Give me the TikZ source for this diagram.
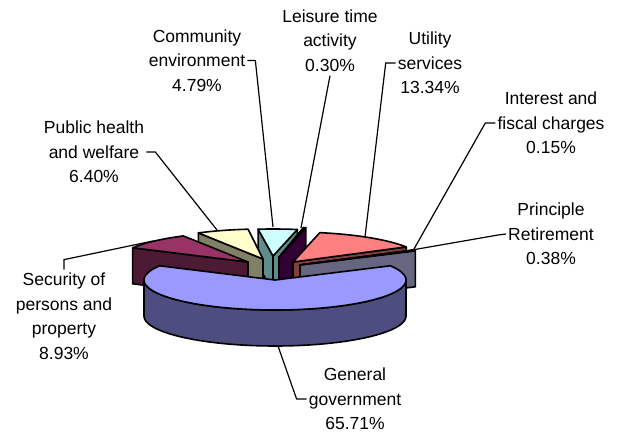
\documentclass[tikz,border=0pt]{standalone}
\usepackage{fontspec}
\setmainfont{Liberation Sans}
\definecolor{gtop}{HTML}{9999FF}
\definecolor{gside}{HTML}{4D4D80}
\definecolor{stop}{HTML}{993366}
\definecolor{sside}{HTML}{4D1A33}
\definecolor{ptop}{HTML}{FFFFCC}
\definecolor{pside}{HTML}{808066}
\definecolor{ctop}{HTML}{CCFFFF}
\definecolor{cside}{HTML}{608C8C}
\definecolor{ltop}{HTML}{660066}
\definecolor{lside}{HTML}{330033}
\definecolor{utop}{HTML}{FF8080}
\definecolor{uside}{HTML}{804040}
\definecolor{itop}{HTML}{0066CC}
\definecolor{iside}{HTML}{003366}
\definecolor{rtop}{HTML}{CCCCFF}
\definecolor{rside}{HTML}{666680}
\begin{document}
\begin{tikzpicture}[x=1pt,y=-1pt,
  pieface/.style={draw=black,line width=1.6pt,line join=round},
  lbl/.style={align=center,font=\fontsize{17.5}{24.5}\selectfont,inner sep=0pt},
  leader/.style={draw=black,line width=1.2pt}]
\useasboundingbox (0,0) rectangle (617,434);
\fill[white] (0,0) rectangle (617,434);

% Community environment (back centre)
\begin{scope}[shift={(273,256)}]
  \path[pieface,fill=cside] (0,0) -- ({131*sin(-6.53)},{-27*cos(-6.53)}) -- ++(0,36) -- (0,36) -- cycle;
  \path[pieface,fill=cside] (0,0) -- ({131*sin(10.71)},{-27*cos(10.71)}) -- ++(0,36) -- (0,36) -- cycle;
  \path[pieface,fill=ctop] (0,0) -- plot[domain=-6.53:10.71,samples=10] ({131*sin(\x)},{-27*cos(\x)}) -- cycle;
\end{scope}
% Public health and welfare
\begin{scope}[shift={(263,259)}]
  \path[pieface,fill=pside] (0,0) -- ({131*sin(-29.57)},{-30*cos(-29.57)}) -- ++(0,36) -- (0,36) -- cycle;
  \path[pieface,fill=ptop] (0,0) -- plot[domain=-29.57:-6.53,samples=12] ({131*sin(\x)},{-30*cos(\x)}) -- cycle;
\end{scope}
% Security of persons and property
\begin{scope}[shift={(248,262)}]
  \path[pieface,fill=sside] (0,0) -- ({131*sin(-61.72)},{-30*cos(-61.72)}) -- ++(0,36) -- (0,36) -- cycle;
  \path[pieface,fill=stop] (0,0) -- plot[domain=-61.72:-29.57,samples=16] ({131*sin(\x)},{-30*cos(\x)}) -- cycle;
\end{scope}
% Leisure time activity
\begin{scope}[shift={(279,257)}]
  \path[pieface,fill=lside] (0,0) -- ({131*sin(11.79)},{-30*cos(11.79)}) -- ++(0,36) -- (0,36) -- cycle;
  \path[pieface,fill=ltop] (0,0) -- plot[domain=10.71:11.79,samples=3] ({131*sin(\x)},{-30*cos(\x)}) -- cycle;
\end{scope}
% Utility services
\begin{scope}[shift={(293,262)}]
  \path[pieface,fill=uside] (0,0) -- ({131*sin(59.81)},{-30*cos(59.81)}) -- ++(0,36) -- (0,36) -- cycle;
  \path[pieface,fill=utop] (0,0) -- plot[domain=11.79:59.81,samples=24] ({131*sin(\x)},{-30*cos(\x)}) -- cycle;
\end{scope}
% Interest and fiscal charges
\begin{scope}[shift={(300,265)}]
  \path[pieface,fill=iside] (0,0) -- ({131*sin(60.35)},{-30*cos(60.35)}) -- ++(0,36) -- (0,36) -- cycle;
  \path[pieface,fill=itop] (0,0) -- plot[domain=59.81:60.35,samples=2] ({131*sin(\x)},{-30*cos(\x)}) -- cycle;
\end{scope}
% Principle Retirement
\begin{scope}[shift={(300,265)}]
  \path[pieface,fill=rside] (0,0) -- ({131*sin(61.72)},{-30*cos(61.72)}) -- ++(0,36) -- (0,36) -- cycle;
  \path[pieface,fill=rtop] (0,0) -- plot[domain=60.35:61.72,samples=2] ({131*sin(\x)},{-30*cos(\x)}) -- cycle;
\end{scope}
% General government (front)
\begin{scope}[shift={(275,280)}]
  \path[pieface,fill=gside] plot[domain=90:270,samples=60] ({131*sin(\x)},{-30*cos(\x)}) -- ++(0,36)
     -- plot[domain=270:90,samples=60] ({131*sin(\x)},{36-30*cos(\x)}) -- cycle;
  \path[pieface,fill=gtop] (0,0) -- plot[domain=61.72:298.28,samples=90] ({131*sin(\x)},{-30*cos(\x)}) -- cycle;
\end{scope}

% labels
\node[lbl] (comm) at (197,60.5) {Community\\environment\\4.79\%};
\node[lbl] (leis) at (330,40.5) {Leisure time\\activity\\0.30\%};
\node[lbl] (util) at (430,63) {Utility\\services\\13.34\%};
\node[lbl] (intr) at (551,123) {Interest and\\fiscal charges\\0.15\%};
\node[lbl] (prin) at (551,234) {Principle\\Retirement\\0.38\%};
\node[lbl] (genl) at (355,399) {General\\government\\65.71\%};
\node[lbl] (secu) at (64,316) {Security of\\persons and\\property\\8.93\%};
\node[lbl] (pubh) at (94,152) {Public health\\and welfare\\6.40\%};

% leader ends on slices
\coordinate (commE) at (273,227);
\coordinate (leisE) at (301,228);
\coordinate (utilE) at (365,237);
\coordinate (intrE) at (414,249);
\coordinate (prinE) at (412,250);
\coordinate (genlE) at (278,346);
\coordinate (secuE) at (153,241);
\coordinate (pubhE) at (217,230);

\draw[leader] ([xshift=2pt]comm.east) -- ++(8,0) -- (commE);
\draw[leader] ([yshift=-4pt]leis.south) -- (leisE);
\draw[leader] ([xshift=-2pt]util.west) -- ++(-10,0) -- (utilE);
\draw[leader] ([xshift=-2pt]intr.west) -- ++(-10,0) -- (intrE);
\draw[leader] ([xshift=-2pt]prin.west) -- ++(-8,1) -- (prinE);
\draw[leader] ([xshift=-2pt]genl.west) -- ++(-10,0) -- (genlE);
\draw[leader] ([yshift=3pt]secu.north) -- ++(0,-10) -- (secuE);
\draw[leader] ([xshift=2pt]pubh.east) -- ++(9,0) -- (pubhE);
\end{tikzpicture}
\end{document}
